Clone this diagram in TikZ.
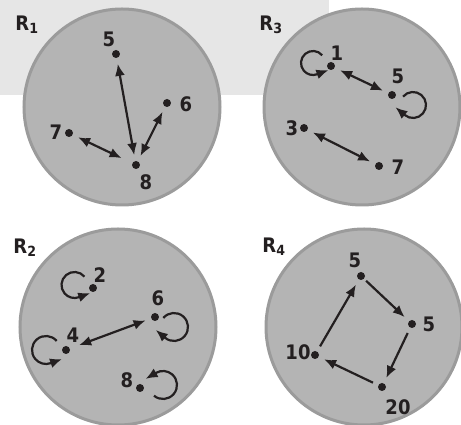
\documentclass[tikz,border=0pt]{standalone}
\usepackage{fontspec}
\setmainfont{DejaVu Sans Condensed}
\usetikzlibrary{arrows.meta}
\definecolor{band}{RGB}{230,230,230}
\definecolor{disc}{RGB}{180,180,180}
\definecolor{rim}{RGB}{155,155,155}
\definecolor{ink}{RGB}{35,31,32}
\begin{document}
\begin{tikzpicture}[x=1pt, y=1pt, >={Latex[length=12pt,width=10pt]},
    dot/.style={circle, fill=ink, inner sep=0pt, minimum size=8pt, outer sep=0pt},
    num/.style={text=ink, font=\bfseries\fontsize{20}{20}\selectfont, inner sep=0pt},
    region/.style={fill=disc, draw=rim, line width=3pt},
    link/.style={ink, line width=2.2pt, shorten >=6pt, shorten <=6pt},
    selfloop/.style={ink, line width=2.2pt, ->}]
    \useasboundingbox (0,0) rectangle (461,425);
    \fill[band] (0,330) rectangle (329,425);
    \draw[region] (122,318) circle[radius=98];
    \draw[region] (362,318) circle[radius=98];
    \draw[region] (118,98) circle[radius=98];
    \draw[region] (364,98) circle[radius=98];
    \node[num] (r1) at (27,400) {R\textsubscript{1}};
    \node[num] (r3) at (271,400) {R\textsubscript{3}};
    \node[num] (r2) at (25,177) {R\textsubscript{2}};
    \node[num] (r4) at (274,178) {R\textsubscript{4}};
    % R1
    \node[dot] (a5) at (116,371) {}; \node[num] (la5) at (109,386) {5};
    \node[dot] (a6) at (167,322) {}; \node[num] (la6) at (186,321) {6};
    \node[dot] (a7) at (69,292) {};  \node[num] (la7) at (56,293) {7};
    \node[dot] (a8) at (136,260) {}; \node[num] (la8) at (146,243) {8};
    \draw[link, <->] (a8) -- (a5);
    \draw[link, <->] (a8) -- (a6);
    \draw[link, <->, shorten <=12pt] (a8) -- (a7);
    % R3
    \node[dot] (b1) at (331,359) {}; \node[num] (lb1) at (337,372) {1};
    \node[dot] (b5) at (392,330) {}; \node[num] (lb5) at (398,349) {5};
    \node[dot] (b3) at (304,297) {}; \node[num] (lb3) at (292,297) {3};
    \node[dot] (b7) at (379,259) {}; \node[num] (lb7) at (398,258) {7};
    \draw[link, <->] (b1) -- (b5);
    \draw[link, <->] (b3) -- (b7);
    \draw[selfloop] ([shift={(-18,3)}]b1) ++(40:12) arc[start angle=40, end angle=290, radius=12] -- ++(20:12);
    \draw[selfloop] ([shift={(21,-10)}]b5) ++(140:13) arc[start angle=140, end angle=-130, radius=13] -- ++(140:12);
    % R2
    \node[dot] (c2) at (93,137) {};  \node[num] (lc2) at (100,150) {2};
    \node[dot] (c6) at (155,108) {}; \node[num] (lc6) at (158,127) {6};
    \node[dot] (c4) at (66,75) {};   \node[num] (lc4) at (73,90) {4};
    \node[dot] (c8) at (140,37) {};  \node[num] (lc8) at (127,45) {8};
    \draw[link, <->, shorten >=10pt] (c6) -- (c4);
    \draw[selfloop] ([shift={(-18.5,3)}]c2) ++(40:13) arc[start angle=40, end angle=290, radius=13] -- ++(20:12);
    \draw[selfloop] ([shift={(19,-10)}]c6) ++(140:14) arc[start angle=140, end angle=-130, radius=14] -- ++(140:12);
    \draw[selfloop] ([shift={(-20,0)}]c4) ++(40:14) arc[start angle=40, end angle=290, radius=14] -- ++(20:12);
    \draw[selfloop] ([shift={(23,3)}]c8) ++(-130:14) arc[start angle=-130, end angle=120, radius=14] -- ++(210:12);
    % R4
    \node[dot] (d5t) at (361,149) {}; \node[num] (ld5t) at (355,165) {5};
    \node[dot] (d5r) at (412,101) {}; \node[num] (ld5r) at (429,101) {5};
    \node[dot] (d20) at (382,38) {};  \node[num] (ld20) at (398,18) {20};
    \node[dot] (d10) at (315,70) {};  \node[num] (ld10) at (298,73) {10};
    \draw[link, ->, shorten <=3pt] (d5t) -- (d5r);
    \draw[link, ->] (d5r) -- (d20);
    \draw[link, ->] (d20) -- (d10);
    \draw[link, ->] (d10) -- (d5t);
\end{tikzpicture}
\end{document}
